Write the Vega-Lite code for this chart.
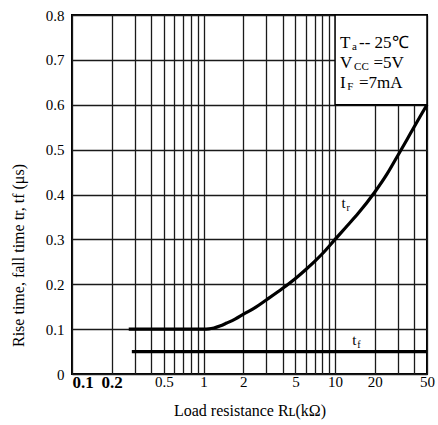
{
  "$schema": "https://vega.github.io/schema/vega-lite/v6.json",
  "width": 355,
  "height": 359,
  "autosize": "none",
  "padding": {"left": 72, "top": 15, "right": 11, "bottom": 51},
  "background": "white",
  "config": {
    "view": {"stroke": "black", "strokeWidth": 2},
    "font": "Liberation Serif"
  },
  "datasets": {
    "curves": [
      {"series": "tr", "R": 0.27, "t": 0.1},
      {"series": "tr", "R": 0.6, "t": 0.1},
      {"series": "tr", "R": 1.0, "t": 0.1},
      {"series": "tr", "R": 1.1, "t": 0.1005},
      {"series": "tr", "R": 1.2, "t": 0.1025},
      {"series": "tr", "R": 1.33, "t": 0.1067},
      {"series": "tr", "R": 1.5, "t": 0.1135},
      {"series": "tr", "R": 1.75, "t": 0.123},
      {"series": "tr", "R": 2, "t": 0.133},
      {"series": "tr", "R": 2.5, "t": 0.149},
      {"series": "tr", "R": 3, "t": 0.165},
      {"series": "tr", "R": 4, "t": 0.191},
      {"series": "tr", "R": 5, "t": 0.213},
      {"series": "tr", "R": 6, "t": 0.233},
      {"series": "tr", "R": 7, "t": 0.251},
      {"series": "tr", "R": 8, "t": 0.268},
      {"series": "tr", "R": 10, "t": 0.3},
      {"series": "tr", "R": 12, "t": 0.326},
      {"series": "tr", "R": 15, "t": 0.358},
      {"series": "tr", "R": 20, "t": 0.405},
      {"series": "tr", "R": 25, "t": 0.447},
      {"series": "tr", "R": 30, "t": 0.487},
      {"series": "tr", "R": 35, "t": 0.521},
      {"series": "tr", "R": 40, "t": 0.551},
      {"series": "tr", "R": 45, "t": 0.577},
      {"series": "tr", "R": 50, "t": 0.6},
      {"series": "tf", "R": 0.285, "t": 0.05},
      {"series": "tf", "R": 50, "t": 0.05}
    ],
    "box": [{"x1": 10, "x2": 50, "y1": 0.6, "y2": 0.8}],
    "notes": [
      {"R": 10.9, "Rs": 13.47, "Rr": 15.2, "t": 0.7255, "main": "T", "sub": "a", "rest": "-- 25℃"},
      {"R": 10.9, "Rs": 13.95, "Rr": 19.6, "t": 0.683, "main": "V", "sub": "CC", "rest": "=5V"},
      {"R": 10.9, "Rs": 12.4, "Rr": 15.2, "t": 0.637, "main": "I", "sub": "F", "rest": "=7mA"}
    ],
    "labels": [
      {"R": 11.2, "t": 0.37, "main": "t", "sub": "r"},
      {"R": 13.5, "t": 0.065, "main": "t", "sub": "f"}
    ]
  },
  "layer": [
    {
      "data": {"name": "curves"},
      "mark": {"type": "line", "opacity": 0},
      "encoding": {
        "x": {
          "field": "R", "type": "quantitative",
          "scale": {"type": "log", "domain": [0.1, 50], "nice": false},
          "axis": {
            "values": [0.1, 0.2, 0.3, 0.4, 0.5, 0.6, 0.7, 0.8, 0.9, 1, 2, 3, 4, 5, 6, 7, 8, 9, 10, 20, 30, 40, 50],
            "labelExpr": "indexof([0.1,0.2,0.5,1,2,5,10,20,50], datum.value) >= 0 ? datum.value + '' : ''",
            "labelFont": {"expr": "datum.value <= 0.2 ? 'Liberation Sans Narrow' : 'Liberation Serif'"},
            "labelFontWeight": {"expr": "datum.value <= 0.2 ? 'bold' : 'normal'"},
            "labelFontSize": {"expr": "datum.value <= 0.2 ? 17 : 15"},
            "labelAlign": {"expr": "datum.value == 0.1 ? 'left' : 'center'"},
            "labelColor": "black",
            "labelPadding": 0,
            "labelFlush": false,
            "labelOverlap": false,
            "ticks": false,
            "domain": false,
            "grid": true,
            "gridColor": "#1a1a1a",
            "gridWidth": 1.3,
            "title": "Load resistance  Rʟ(kΩ)",
            "titleFont": "Liberation Serif",
            "titleFontWeight": "normal",
            "titleFontSize": 16,
            "titleColor": "black",
            "titlePadding": 12
          }
        },
        "y": {
          "field": "t", "type": "quantitative",
          "scale": {"domain": [0, 0.8], "nice": false},
          "axis": {
            "values": [0, 0.1, 0.2, 0.3, 0.4, 0.5, 0.6, 0.7, 0.8],
            "labelExpr": "datum.value == 0 ? '0' : format(datum.value, '.1f')",
            "labelFont": "Liberation Serif",
            "labelFontSize": 15,
            "labelColor": "black",
            "labelPadding": 8,
            "ticks": false,
            "domain": false,
            "grid": true,
            "gridColor": "#1a1a1a",
            "gridWidth": 1.3,
            "title": "Rise time, fall time  tr, tf  (μs)",
            "titleFont": "Liberation Serif",
            "titleFontWeight": "normal",
            "titleFontSize": 16,
            "titleColor": "black",
            "titleAngle": -90,
            "titleX": -54,
            "titleY": 240,
            "titleAlign": "center",
            "titleBaseline": "middle"
          }
        }
      }
    },
    {
      "data": {"name": "box"},
      "mark": {"type": "rect", "fill": "white", "stroke": "black", "strokeWidth": 1.5},
      "encoding": {
        "x": {"field": "x1", "type": "quantitative"},
        "x2": {"field": "x2"},
        "y": {"field": "y1", "type": "quantitative"},
        "y2": {"field": "y2"}
      }
    },
    {
      "data": {"name": "curves"},
      "mark": {"type": "line", "color": "black", "strokeWidth": 3.2, "interpolate": "monotone"},
      "encoding": {
        "x": {"field": "R", "type": "quantitative"},
        "y": {"field": "t", "type": "quantitative"},
        "detail": {"field": "series"}
      }
    },
    {
      "data": {"name": "notes"},
      "mark": {"type": "text", "align": "left", "baseline": "alphabetic", "fontSize": 17, "font": "Liberation Serif", "color": "black"},
      "encoding": {
        "x": {"field": "R", "type": "quantitative"},
        "y": {"field": "t", "type": "quantitative"},
        "text": {"field": "main"}
      }
    },
    {
      "data": {"name": "notes"},
      "mark": {"type": "text", "align": "left", "baseline": "alphabetic", "fontSize": 11, "font": "Liberation Serif", "color": "black", "dy": 2},
      "encoding": {
        "x": {"field": "Rs", "type": "quantitative"},
        "y": {"field": "t", "type": "quantitative"},
        "text": {"field": "sub"}
      }
    },
    {
      "data": {"name": "notes"},
      "mark": {"type": "text", "align": "left", "baseline": "alphabetic", "fontSize": 17, "font": "Liberation Serif", "color": "black"},
      "encoding": {
        "x": {"field": "Rr", "type": "quantitative"},
        "y": {"field": "t", "type": "quantitative"},
        "text": {"field": "rest"}
      }
    },
    {
      "data": {"name": "labels"},
      "mark": {"type": "text", "align": "left", "baseline": "alphabetic", "fontSize": 15, "font": "Liberation Serif", "color": "black"},
      "encoding": {
        "x": {"field": "R", "type": "quantitative"},
        "y": {"field": "t", "type": "quantitative"},
        "text": {"field": "main"}
      }
    },
    {
      "data": {"name": "labels"},
      "mark": {"type": "text", "align": "left", "baseline": "alphabetic", "fontSize": 10, "font": "Liberation Serif", "color": "black", "dx": 5, "dy": 3},
      "encoding": {
        "x": {"field": "R", "type": "quantitative"},
        "y": {"field": "t", "type": "quantitative"},
        "text": {"field": "sub"}
      }
    }
  ]
}
